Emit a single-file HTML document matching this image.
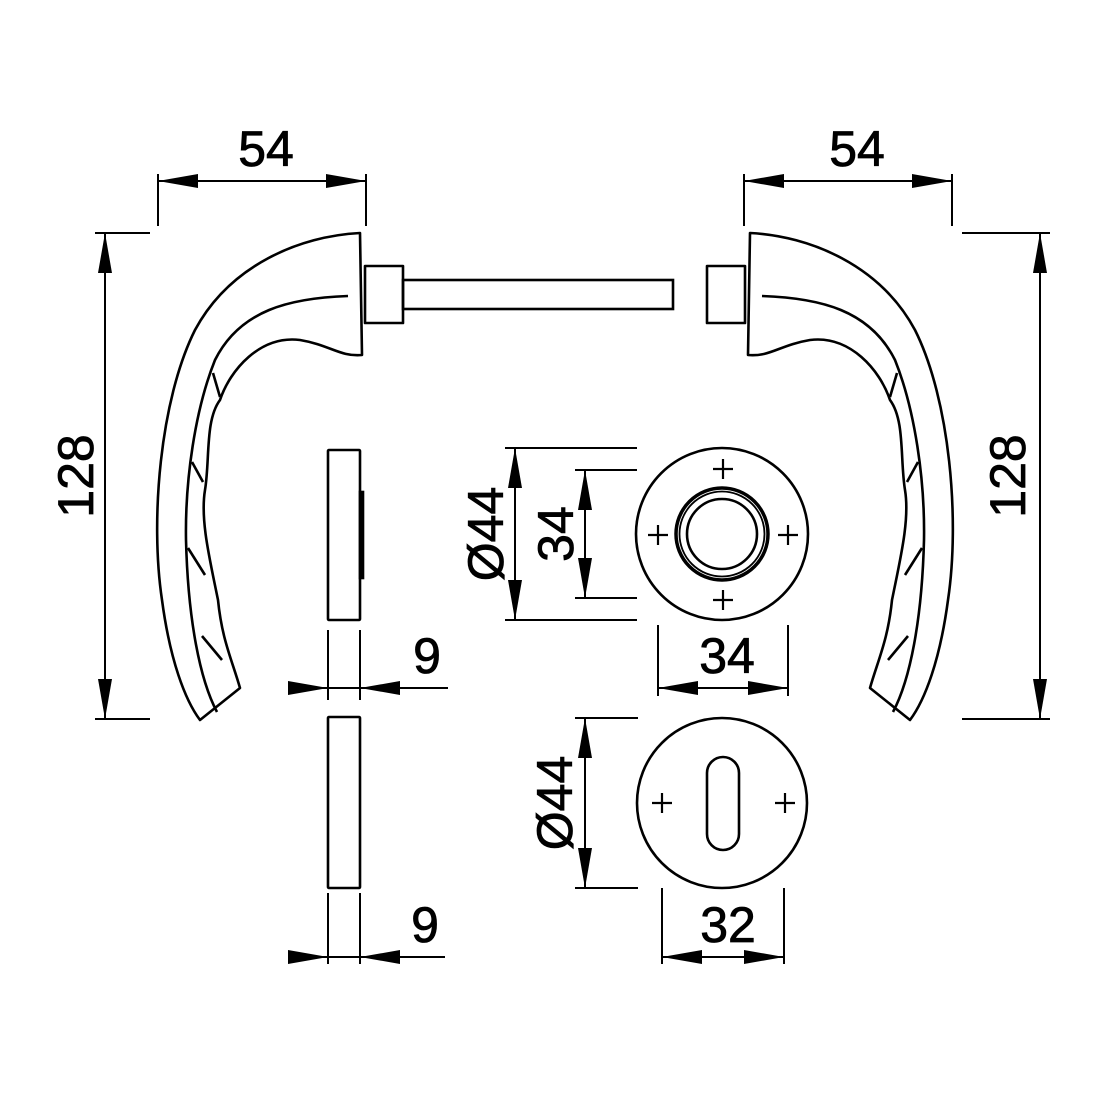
<!DOCTYPE html>
<html><head><meta charset="utf-8"><style>body{margin:0;background:#fff}svg{display:block}</style></head><body>
<svg width="1100" height="1100" viewBox="0 0 1100 1100" xmlns="http://www.w3.org/2000/svg">
<defs>
<g id="handle" fill="none" stroke="#000" stroke-width="2.6" stroke-linejoin="round">
<path d="M360,233 C300,236 230,265 195,330 C160,400 150,520 162,600 C170,660 185,700 200,720 L240,688 C232,660 222,640 218,600 C210,560 200,520 205,490 C210,460 205,420 220,400 C230,370 260,335 300,340 C330,345 340,357 362,355 Z"/>
<path d="M348,296 C290,298 240,310 215,360 C195,410 185,480 186,540 C188,620 200,680 217,712"/>
<line x1="213" y1="373" x2="220" y2="397"/>
<line x1="192" y1="462" x2="203" y2="482"/>
<line x1="188" y1="548" x2="205" y2="575"/>
<line x1="202" y1="636" x2="222" y2="660"/>
<rect x="365" y="266" width="38" height="57"/>
</g>
<polygon id="ar" points="0,0 -40,-7 -40,7" fill="#000"/>
</defs>
<use href="#handle"/>
<use href="#handle" transform="translate(1110,0) scale(-1,1)"/>
<rect x="403" y="280" width="270" height="29" fill="none" stroke="#000" stroke-width="2.6"/>
<g stroke="#000" stroke-width="2" fill="none">
<line x1="158" y1="174" x2="158" y2="226"/><line x1="366" y1="174" x2="366" y2="226"/><line x1="158" y1="181" x2="366" y2="181"/>
<line x1="744" y1="174" x2="744" y2="226"/><line x1="952" y1="174" x2="952" y2="226"/><line x1="744" y1="181" x2="952" y2="181"/>
<line x1="95" y1="233" x2="150" y2="233"/><line x1="95" y1="719" x2="150" y2="719"/><line x1="105" y1="233" x2="105" y2="719"/>
<line x1="962" y1="233" x2="1050" y2="233"/><line x1="962" y1="719" x2="1050" y2="719"/><line x1="1040" y1="233" x2="1040" y2="719"/>
<line x1="328" y1="630" x2="328" y2="700"/><line x1="360" y1="630" x2="360" y2="700"/><line x1="289" y1="688" x2="448" y2="688"/>
<line x1="328" y1="893" x2="328" y2="964"/><line x1="360" y1="893" x2="360" y2="964"/><line x1="289" y1="957" x2="445" y2="957"/>
<line x1="505" y1="448" x2="637" y2="448"/><line x1="505" y1="620" x2="637" y2="620"/><line x1="515" y1="448" x2="515" y2="620"/>
<line x1="575" y1="470" x2="637" y2="470"/><line x1="575" y1="598" x2="637" y2="598"/><line x1="585" y1="470" x2="585" y2="598"/>
<line x1="658" y1="625" x2="658" y2="696"/><line x1="788" y1="625" x2="788" y2="696"/><line x1="658" y1="688" x2="788" y2="688"/>
<line x1="575" y1="718" x2="638" y2="718"/><line x1="575" y1="888" x2="638" y2="888"/><line x1="585" y1="718" x2="585" y2="888"/>
<line x1="662" y1="888" x2="662" y2="964"/><line x1="784" y1="888" x2="784" y2="964"/><line x1="662" y1="957" x2="784" y2="957"/>
</g>
<g stroke="#000" stroke-width="2.6" fill="none">
<rect x="328" y="450" width="32" height="170" rx="1"/>
<rect x="360" y="492" width="3" height="86" fill="#000"/>
<rect x="328" y="717" width="32" height="171" rx="1"/>
<circle cx="722" cy="534" r="86"/>
<circle cx="722" cy="534" r="46" stroke-width="3.5"/>
<circle cx="722" cy="534" r="42.5" stroke-width="1.8"/>
<circle cx="722" cy="534" r="35"/>
<circle cx="722" cy="803" r="85"/>
<rect x="707" y="757" width="32" height="93" rx="16"/>
</g>
<g stroke="#000" stroke-width="2.2">
<path d="M713,469h20M723,459v20M713,600h20M723,590v20M648,535h20M658,525v20M778,535h20M788,525v20"/>
<path d="M652,803h20M662,793v20M775,803h20M785,793v20"/>
</g>
<g>
<use href="#ar" transform="translate(158,181) rotate(180)"/><use href="#ar" transform="translate(366,181)"/>
<use href="#ar" transform="translate(744,181) rotate(180)"/><use href="#ar" transform="translate(952,181)"/>
<use href="#ar" transform="translate(105,233) rotate(-90)"/><use href="#ar" transform="translate(105,719) rotate(90)"/>
<use href="#ar" transform="translate(1040,233) rotate(-90)"/><use href="#ar" transform="translate(1040,719) rotate(90)"/>
<use href="#ar" transform="translate(328,688)"/><use href="#ar" transform="translate(360,688) rotate(180)"/>
<use href="#ar" transform="translate(328,957)"/><use href="#ar" transform="translate(360,957) rotate(180)"/>
<use href="#ar" transform="translate(515,448) rotate(-90)"/><use href="#ar" transform="translate(515,620) rotate(90)"/>
<use href="#ar" transform="translate(585,470) rotate(-90)"/><use href="#ar" transform="translate(585,598) rotate(90)"/>
<use href="#ar" transform="translate(658,688) rotate(180)"/><use href="#ar" transform="translate(788,688)"/>
<use href="#ar" transform="translate(585,718) rotate(-90)"/><use href="#ar" transform="translate(585,888) rotate(90)"/>
<use href="#ar" transform="translate(662,957) rotate(180)"/><use href="#ar" transform="translate(784,957)"/>
</g>
<g font-family="Liberation Sans, sans-serif" font-size="50" fill="#000" stroke="#000" stroke-width="0.8" text-anchor="middle">
<text x="266" y="166">54</text>
<text x="857" y="166">54</text>
<text transform="translate(93,476) rotate(-90)">128</text>
<text transform="translate(1025,476) rotate(-90)">128</text>
<text x="427" y="673">9</text>
<text x="425" y="942">9</text>
<text transform="translate(503,534) rotate(-90)">Ø44</text>
<text transform="translate(573,534) rotate(-90)">34</text>
<text x="727" y="673">34</text>
<text transform="translate(572,803) rotate(-90)">Ø44</text>
<text x="728" y="942">32</text>
</g>
</svg>
</body></html>
